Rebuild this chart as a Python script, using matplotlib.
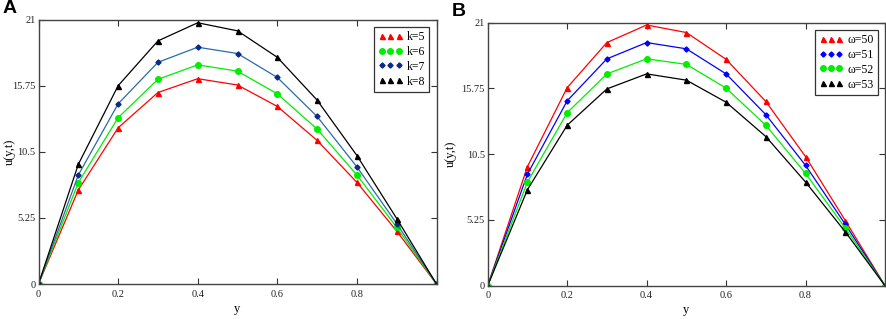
# Velocity profiles u(y,t) for varying k and omega
import numpy as np
import matplotlib
matplotlib.use("Agg")
import matplotlib.pyplot as plt

plt.rcParams['font.family'] = ['Liberation Serif', 'DejaVu Serif']

y = [0, 0.1, 0.2, 0.3, 0.4, 0.5, 0.6, 0.7, 0.8, 0.9, 1.0]

# panel A: k = 5..8
u_k5 = [0, 7.46, 12.4, 15.2, 16.3, 15.8, 14.1, 11.4, 8.07, 4.2, 0]
u_k6 = [0, 8.05, 13.2, 16.25, 17.4, 16.9, 15.1, 12.3, 8.65, 4.5, 0]
u_k7 = [0, 8.65, 14.3, 17.6, 18.8, 18.3, 16.4, 13.3, 9.3, 4.8, 0]
u_k8 = [0, 9.5, 15.74, 19.3, 20.74, 20.1, 18.0, 14.6, 10.2, 5.2, 0]

# panel B: omega = 50..53
u_w50 = [0, 9.5, 15.8, 19.4, 20.8, 20.2, 18.06, 14.7, 10.3, 5.2, 0]
u_w51 = [0, 8.9, 14.75, 18.1, 19.4, 18.9, 16.9, 13.65, 9.6, 4.9, 0]
u_w52 = [0, 8.27, 13.8, 16.9, 18.1, 17.66, 15.76, 12.8, 8.96, 4.6, 0]
u_w53 = [0, 7.66, 12.8, 15.7, 16.9, 16.4, 14.64, 11.9, 8.27, 4.3, 0]

yticks = [0, 5.25, 10.5, 15.75, 21]
ytick_labels = ['0', '5.25', '10.5', '15.75', '21']
xticks = [0, 0.2, 0.4, 0.6, 0.8, 1.0]
xtick_labels = ['0', '0.2', '0.4', '0.6', '0.8', '']

series_a = [
    (u_k5, 'k=5', '#ff0000', '^', '#ff0000', 3.6),
    (u_k6, 'k=6', '#00ee00', 'o', '#00ee00', 4.0),
    (u_k7, 'k=7', '#2a6aa8', 'D', '#0a2a8a', 2.6),
    (u_k8, 'k=8', '#000000', '^', '#000000', 3.6),
]
series_b = [
    (u_w50, '\u03c9=50', '#ff0000', '^', '#ff0000', 3.6),
    (u_w51, '\u03c9=51', '#0000ff', 'D', '#0000ff', 2.6),
    (u_w52, '\u03c9=52', '#00ee00', 'o', '#00ee00', 4.0),
    (u_w53, '\u03c9=53', '#000000', '^', '#000000', 3.6),
]

fig = plt.figure(figsize=(8.86, 3.19), dpi=100)
W, H = 886.0, 319.0
ax_a = fig.add_axes([38.5 / W, 1 - 284 / H, (436.5 - 38.5) / W, (284 - 19.5) / H])
ax_b = fig.add_axes([487.7 / W, 1 - 285.7 / H, (885 - 487.7) / W, (285.7 - 22.5) / H])


def draw(ax, series, letter, ylab_x):
    for vals, lab, lc, mk, mc, ms in series:
        ax.plot(y, vals, color=lc, lw=0.9, marker=mk, markersize=ms,
                markerfacecolor=mc, markeredgecolor=mc, label=lab)
    ax.set_xlim(0, 1)
    ax.set_ylim(0, 21)
    ax.set_xticks(xticks)
    ax.set_xticklabels(xtick_labels)
    ax.set_yticks(yticks)
    ax.set_yticklabels(ytick_labels)
    ax.tick_params(direction='in', length=4, width=0.8, labelsize=7.5, pad=2,
                   top=True, right=True, colors='#333333', labelcolor='#222222')
    ax.tick_params(axis='x', pad=4)
    for s in ax.spines.values():
        s.set_color('#444444')
        s.set_linewidth(1.0)
    ax.set_xlabel('y', fontsize=9)
    ax.xaxis.set_label_coords(0.5, -0.07)
    ax.set_ylabel('u(y,t)', fontsize=9)
    ax.yaxis.set_label_coords(ylab_x, 0.5)
    leg = ax.legend(loc='upper right', numpoints=3, fontsize=8.5, frameon=True,
                    fancybox=False, edgecolor='#333333', framealpha=1,
                    handlelength=2.0, handletextpad=0.4, borderpad=0.35,
                    labelspacing=0.25, borderaxespad=0.6)
    leg.get_frame().set_linewidth(0.9)
    for h in leg.get_lines():
        h.set_linestyle('none')
    ax.text(-0.09, 1.01, letter, transform=ax.transAxes, fontsize=14,
            fontweight='bold', family='Liberation Sans', ha='left', va='bottom')


draw(ax_a, series_a, 'A', -0.058)
draw(ax_b, series_b, 'B', -0.077)

fig.savefig('out.png', dpi=100)
